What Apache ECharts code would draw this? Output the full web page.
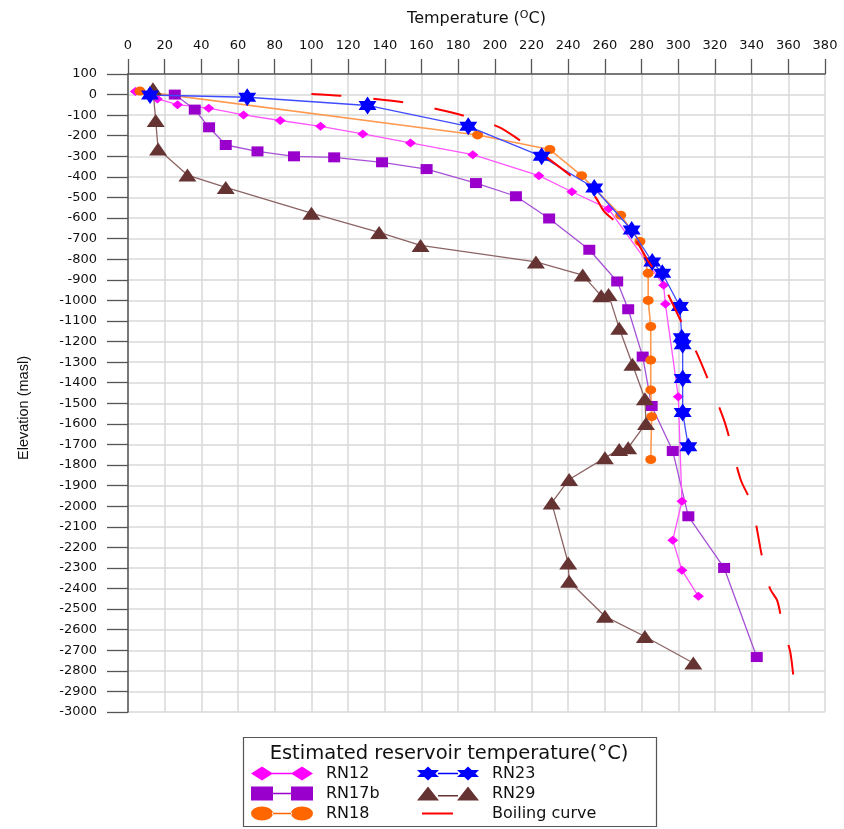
<!DOCTYPE html>
<html>
<head>
<meta charset="utf-8">
<script src="https://cdn.jsdelivr.net/npm/echarts@6/dist/echarts.min.js"></script>
<style>
html,body{margin:0;padding:0;background:#ffffff;}
#chart{width:844px;height:829px;}
</style>
</head>
<body>
<div id="chart"></div>
<script>
// ---- Axis settings ----
const tempMin = 0, tempMax = 380, tempStep = 20;
const elevMin = -3000, elevMax = 100, elevStep = 100;

// ---- Series data (temperature °C, elevation masl) ----
const rn12Temp = [4, 16, 27, 44, 63, 83, 105, 128, 154, 188, 224, 242, 262, 292, 293, 300, 302, 297, 302, 311];
const rn12Elev = [15, -21, -49, -66, -99, -126, -154, -191, -235, -292, -394, -472, -555, -926, -1018, -1468, -1976, -2165, -2311, -2438];

const rn17bTemp = [25.5, 36.4, 44.2, 53.3, 70.6, 90.5, 112.4, 138.5, 162.8, 189.7, 211.5, 229.6, 251.5, 266.7, 272.7, 280.6, 285.5, 297, 305.5, 325, 342.8];
const rn17bElev = [0, -73, -159, -245, -276, -300, -305, -329, -362, -430, -494, -602, -754, -908, -1043, -1273, -1513, -1732, -2049, -2300, -2733];

const rn18Temp = [6.5, 190.6, 230, 247.3, 268.6, 279.1, 283.6, 283.6, 285, 285, 285, 285.5, 285];
const rn18Elev = [17, -196, -267, -394, -586, -714, -868, -1000, -1127, -1290, -1435, -1565, -1773];

const rn23Temp = [12, 65, 130.6, 185.5, 225.5, 254.2, 274.6, 285.8, 291.3, 300.9, 301.9, 302.4, 302.4, 302.4, 305.5];
const rn23Elev = [-2, -13, -53, -154, -300, -454, -658, -813, -868, -1030, -1181, -1215, -1379, -1545, -1711];

const rn29Temp = [13.6, 15.1, 16.4, 32.4, 53.3, 100, 136.9, 159.5, 222.4, 247.9, 258, 262, 267.8, 275, 281.8, 282.4, 272.7, 267.8, 260, 240.5, 231, 240, 240.5, 260, 281.8, 308.2];
const rn29Elev = [28, -126, -264, -391, -451, -576, -670, -733, -813, -877, -978, -972, -1135, -1310, -1478, -1598, -1716, -1724, -1765, -1870, -1984, -2276, -2365, -2535, -2633, -2762];

const boilTemp = [100, 116, 135, 152, 170, 185, 202, 215, 229, 254, 260, 275, 283, 291, 304, 310, 316, 321, 326, 334, 340, 346, 350, 354, 357, 361, 363, 366];
const boilElev = [3, -6, -21, -40, -74, -108, -157, -230, -310, -490, -572, -686, -800, -911, -1148, -1254, -1379, -1489, -1611, -1870, -1990, -2260, -2400, -2460, -2584, -2706, -2835, -2950];

const zip = (a, b) => a.map((v, i) => [v, b[i]]);

// ---- Symbols ----
const starPath = 'path://M0,-10L2.887,-5L8.66,-5L5.774,0L8.66,5L2.887,5L0,10L-2.887,5L-8.66,5L-5.774,0L-8.66,-5L-2.887,-5Z';
const iconDiamond = 'path://M0,7L11,0L22,7L11,14Z M40,7L51,0L62,7L51,14Z M21,6.3H41V7.7H21Z';
const iconSquare = 'path://M0,0H22V14H0Z M40,0H62V14H40Z M22,6.3H40V7.7H22Z';
const iconCircle = 'path://M0,7A11,7 0 1,0 22,7A11,7 0 1,0 0,7Z M40,7A11,7 0 1,0 62,7A11,7 0 1,0 40,7Z M21,6.3H41V7.7H21Z';
const iconStar = 'path://M11,0L14.67,3.5L22,3.5L18.33,7L22,10.5L14.67,10.5L11,14L7.33,10.5L0,10.5L3.67,7L0,3.5L7.33,3.5Z M51,0L54.67,3.5L62,3.5L58.33,7L62,10.5L54.67,10.5L51,14L47.33,10.5L40,10.5L43.67,7L40,3.5L47.33,3.5Z M21,6.3H41V7.7H21Z';
const iconTri = 'path://M0,14L11,0L22,14Z M40,14L51,0L62,14Z M21,8.6H41V10H21Z';
const iconBoil = 'path://M0,0 M62,14 M5,6H36V8H5Z';

const chart = echarts.init(document.getElementById('chart'), null, {renderer: 'canvas'});

const legendText = {fontFamily: 'DejaVu Sans', fontSize: 16, color: '#111111', padding: [0, 0, 0, 8]};

const option = {
  animation: false,
  backgroundColor: '#ffffff',
  grid: {left: 128, right: 19, top: 74, bottom: 117, containLabel: false},
  xAxis: {
    type: 'value',
    position: 'top',
    min: tempMin, max: tempMax, interval: tempStep,
    name: 'Temperature ({sup|O}C)',
    nameLocation: 'middle',
    nameGap: 46,
    nameTextStyle: {
      fontFamily: 'DejaVu Sans', fontSize: 16, color: '#111111',
      rich: {sup: {fontFamily: 'DejaVu Sans', fontSize: 11, color: '#111111', padding: [0, 0, 7, 0]}}
    },
    axisLine: {show: true, onZero: false, lineStyle: {color: '#555555', width: 1.5}},
    axisTick: {show: true, length: 15, lineStyle: {color: '#555555', width: 1.3}},
    axisLabel: {margin: 22, fontFamily: 'DejaVu Sans', fontSize: 13, color: '#111111', formatter: v => String(v)},
    splitLine: {show: true, lineStyle: {color: '#D9D9D9', width: 1.5}}
  },
  yAxis: {
    type: 'value',
    min: elevMin, max: elevMax, interval: elevStep,
    name: 'Elevation (masl)',
    nameLocation: 'middle',
    nameGap: 97,
    nameTextStyle: {fontFamily: 'Liberation Sans', fontSize: 14.5, color: '#111111', padding: [0, 30, 0, 0]},
    axisLine: {show: true, onZero: false, lineStyle: {color: '#555555', width: 1.5}},
    axisTick: {show: true, length: 21, lineStyle: {color: '#555555', width: 1.3}},
    axisLabel: {margin: 31, fontFamily: 'DejaVu Sans', fontSize: 13, color: '#111111', formatter: v => String(v)},
    splitLine: {show: true, lineStyle: {color: '#D9D9D9', width: 1.5}}
  },
  legend: [
    {
      orient: 'vertical', left: 251, top: 765.5, padding: 0, height: 62,
      itemWidth: 62, itemHeight: 14, itemGap: 4,
      symbolKeepAspect: false, selectedMode: false,
      itemStyle: {borderWidth: 0},
      textStyle: legendText,
      data: [{name: 'RN12', icon: iconDiamond}, {name: 'RN17b', icon: iconSquare}, {name: 'RN18', icon: iconCircle}]
    },
    {
      orient: 'vertical', left: 417, top: 765.5, padding: 0, height: 62,
      itemWidth: 62, itemHeight: 14, itemGap: 4,
      symbolKeepAspect: false, selectedMode: false,
      itemStyle: {borderWidth: 0},
      textStyle: legendText,
      data: [{name: 'RN23', icon: iconStar}, {name: 'RN29', icon: iconTri}, {name: 'Boiling curve', icon: iconBoil}]
    }
  ],
  graphic: [
    {type: 'rect', silent: true, shape: {x: 243.5, y: 737.5, width: 413, height: 89},
     style: {fill: 'none', stroke: '#555555', lineWidth: 1.2}},
    {type: 'text', silent: true, x: 449, y: 754,
     style: {text: 'Estimated reservoir temperature(°C)', fontFamily: 'DejaVu Sans', fontSize: 19.5,
             fill: '#111111', align: 'center', verticalAlign: 'middle'}}
  ],
  series: [
    {name: 'RN17b', type: 'line', data: zip(rn17bTemp, rn17bElev), symbol: 'rect', symbolSize: [12, 10],
     itemStyle: {color: '#9900CC', borderWidth: 0}, lineStyle: {color: '#A650D6', width: 1.3}, z: 2},
    {name: 'RN12', type: 'line', data: zip(rn12Temp, rn12Elev), symbol: 'diamond', symbolSize: [11, 9],
     itemStyle: {color: '#FF00FF', borderWidth: 0}, lineStyle: {color: '#FF55FF', width: 1.3}, z: 2},
    {name: 'RN18', type: 'line', data: zip(rn18Temp, rn18Elev), symbol: 'circle', symbolSize: [11, 9],
     itemStyle: {color: '#FF6600', borderWidth: 0}, lineStyle: {color: '#FF9A50', width: 1.6}, z: 2},
    {name: 'RN29', type: 'line', data: zip(rn29Temp, rn29Elev), symbol: 'triangle', symbolSize: [18, 13],
     itemStyle: {color: '#663333', borderWidth: 0}, lineStyle: {color: '#8C6464', width: 1.3}, z: 3},
    {name: 'RN23', type: 'line', data: zip(rn23Temp, rn23Elev), symbol: starPath, symbolSize: [18, 18],
     itemStyle: {color: '#0000FF', borderWidth: 0}, lineStyle: {color: '#3F4BFF', width: 1.3}, z: 3},
    {name: 'Boiling curve', type: 'line', data: zip(boilTemp, boilElev), symbol: 'none', smooth: 0.3,
     itemStyle: {color: '#FF0000'}, lineStyle: {color: '#FF0000', width: 2, type: [30, 32]}, z: 4}
  ]
};
chart.setOption(option);
</script>
</body>
</html>
